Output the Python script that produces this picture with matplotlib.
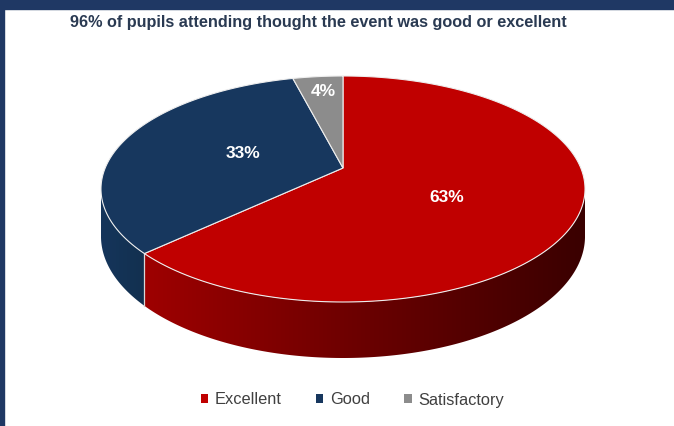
import numpy as np
import matplotlib
matplotlib.use("Agg")
import matplotlib.pyplot as plt
from matplotlib.patches import Polygon, Patch, Rectangle
from matplotlib.colors import LinearSegmentedColormap

categories = ["Excellent", "Good", "Satisfactory"]
values = [63, 33, 4]
labels = ["63%", "33%", "4%"]
top_colors = ["#C00000", "#17375E", "#8C8C8C"]
title = "96% of pupils attending thought the event was good or excellent"

W, H = 674, 426
fig = plt.figure(figsize=(W / 100, H / 100), dpi=100)
ax = fig.add_axes([0, 0, 1, 1])
ax.set_xlim(0, W)
ax.set_ylim(H, 0)
ax.axis("off")

navy = "#1F3864"
ax.add_patch(Rectangle((0, 0), W, 8.5, color=navy, zorder=0))
ax.add_patch(Rectangle((0, 0), 3.5, H, color=navy, zorder=0))

# perspective disc parameters
cx, cy = 343, 168
a, b, k = 109.1, 237.8, 0.1858
d = 45.6


def proj(theta_deg):
    t = np.radians(theta_deg)
    u = np.sin(t)
    v = -np.cos(t)
    s = 1 - k * v
    return cx + b * u / s, cy + a * v / s, d / s


total = sum(values)
bounds = np.concatenate([[0], np.cumsum(values) / total * 360])
vis_lo = 90 + np.degrees(np.arcsin(k))
vis_hi = 270 - np.degrees(np.arcsin(k))

side_cmaps = [
    LinearSegmentedColormap.from_list("exc", ["#9E0000", "#6A0000", "#3A0000"]),
    LinearSegmentedColormap.from_list("good", ["#15355B", "#12304F"]),
    LinearSegmentedColormap.from_list("sat", ["#707070", "#5a5a5a"]),
]

for i in range(len(values)):
    lo = max(bounds[i], vis_lo)
    hi = min(bounds[i + 1], vis_hi)
    if hi <= lo:
        continue
    ts = np.linspace(lo, hi, 300)
    P = np.array([proj(t) for t in ts])
    top = P[:, :2]
    bot = np.column_stack([P[:, 0], P[:, 1] + P[:, 2]])
    poly = np.vstack([top, bot[::-1]])
    patch = Polygon(poly, closed=True, facecolor="none", edgecolor="none", zorder=2)
    ax.add_patch(patch)
    xmin, xmax = poly[:, 0].min(), poly[:, 0].max()
    ymin, ymax = poly[:, 1].min(), poly[:, 1].max()
    if i == 0:
        grad = np.linspace(0, 1, 256)[None, :]
        ext = (145, 585, ymax, ymin)
    else:
        grad = np.linspace(0, 1, 256)[None, :]
        ext = (xmin, xmax, ymax, ymin)
    im = ax.imshow(grad, cmap=side_cmaps[i], extent=ext, aspect="auto",
                   interpolation="bilinear", zorder=2)
    im.set_clip_path(patch)

ax.set_xlim(0, W)
ax.set_ylim(H, 0)

# boundary line between sides
for bd in bounds[1:-1]:
    if vis_lo < bd < vis_hi:
        x0, y0, d0 = proj(bd)
        ax.plot([x0, x0], [y0, y0 + d0], color="#d8d8d8", lw=0.9, zorder=3)

# top faces
for i in range(len(values)):
    ts = np.linspace(bounds[i], bounds[i + 1], 200)
    pts = [(cx, cy)] + [proj(t)[:2] for t in ts]
    ax.add_patch(Polygon(pts, closed=True, facecolor=top_colors[i],
                         edgecolor="#eeeeee", linewidth=0.8, zorder=4))

# labels
label_pos = [(447, 197), (243, 154), (323, 92)]
for lab, (lx, ly) in zip(labels, label_pos):
    ax.text(lx, ly, lab, color="white", fontsize=12.5, fontweight="bold",
            family="Liberation Sans", ha="center", va="center", zorder=5)

ax.text(70, 23, title, color="#2A3A52", fontsize=11.7, fontweight="bold",
        family="Liberation Sans", ha="left", va="center", zorder=5)

handles = [Patch(facecolor=c, edgecolor="none") for c in top_colors]
leg = ax.legend(handles, categories, loc="center", bbox_to_anchor=(352.5 / W, 1 - 400 / H),
                ncol=3, frameon=False, handlelength=0.45, handleheight=0.45,
                handletextpad=0.4, columnspacing=2.1,
                prop={"family": "Liberation Sans", "size": 11.8})
for t in leg.get_texts():
    t.set_color("#404040")

fig.savefig("out.png", dpi=100)
